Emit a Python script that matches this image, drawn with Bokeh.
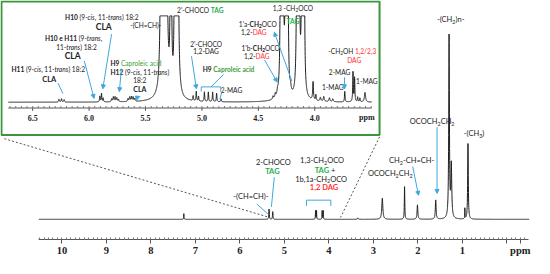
import glob, os, subprocess
import numpy as np
from bokeh.plotting import figure
from bokeh.models import (Range1d, ColumnDataSource, Arrow, NormalHead, FixedTicker)
from bokeh.core.properties import value
from bokeh.embed import file_html
from bokeh.resources import INLINE

# ---------------- data ----------------
# main 1H spectrum: peak positions (ppm), heights (arb.), half widths (ppm)
main_ppm = [7.26, 5.345, 5.262, 4.300, 4.278, 4.152, 4.128, 3.35, 2.80, 2.30,
            2.01, 1.60, 1.300, 1.250, 0.945, 0.875]
main_int = [6, 11, 8, 9, 9, 9, 9, 1.5, 22, 34, 15, 20, 190, 55, 12, 80]
main_hw = [0.004, 0.006, 0.006, 0.004, 0.004, 0.004, 0.004, 0.01, 0.014, 0.006,
           0.010, 0.010, 0.009, 0.012, 0.003, 0.008]

# expanded region 6.7-3.5 ppm
inset_ppm = [6.267, 6.244, 6.221, 5.905, 5.890, 5.875, 5.800, 5.785, 5.770, 5.755, 5.740,
             5.655, 5.640, 5.625, 5.610, 5.595,
             5.360, 5.345, 5.330, 5.315, 5.275, 5.240, 5.225, 5.210, 5.210,
             5.078, 5.050, 5.030, 4.978, 4.943, 4.905, 4.870, 4.830,
             4.370, 4.350, 4.330, 4.300, 4.285, 4.255, 4.240, 4.215,
             4.155, 4.140, 4.110, 4.095, 4.015, 3.990, 3.950, 3.920, 3.870, 3.840,
             3.734, 3.661, 3.647, 3.620, 3.600, 3.555]
inset_int = [3.0, 3.5, 2.5, 6, 9, 4, 3, 5, 5, 4, 2.5,
             3, 4.5, 5, 4.5, 3,
             600, 900, 900, 600, 900, 500, 500, 250, 30,
             5, 10, 5, 10, 10, 10, 9, 3,
             3, 4, 4, 600, 1000, 800, 400, 6,
             800, 600, 900, 400, 19, 6, 4, 5, 4, 3,
             11, 31, 25, 5, 4, 10]
inset_hw = [0.004, 0.004, 0.004, 0.003, 0.003, 0.003, 0.004, 0.004, 0.004, 0.004, 0.004,
            0.004, 0.004, 0.004, 0.004, 0.004,
            0.004, 0.004, 0.004, 0.004, 0.0025, 0.003, 0.003, 0.003, 0.015,
            0.003, 0.003, 0.003, 0.003, 0.003, 0.003, 0.003, 0.003,
            0.004, 0.004, 0.004, 0.003, 0.003, 0.003, 0.003, 0.006,
            0.003, 0.003, 0.003, 0.003, 0.004, 0.003, 0.005, 0.005, 0.005, 0.005,
            0.003, 0.003, 0.003, 0.003, 0.003, 0.006]
inset_clip = 90

main_ticks = [10, 9, 8, 7, 6, 5, 4, 3, 2, 1, 0, -0.3]
main_tick_labels = {0: "", -0.3: "ppm"}
inset_ticks = [6.5, 6.0, 5.5, 5.0, 4.5, 4.0]
main_span = (10.52, -0.50)
inset_span = (6.716, 3.495)

# ---------------- styling ----------------
INK = "#222222"
BLUE = "#3ea8de"
GTAG = "#1fae4a"
GCAP = "#3b9e35"
RED = "#ff3030"
BOXC = "#3c943c"
FONT = "Lato"
SERIF = "Liberation Serif"

W, H = 534, 258
SX = W / 548.0          # canvas px per reference px
SY = 240 / 249.0


def mx(px):  # reference page x -> main ppm
    return 10 - (px - 67) / 45.67


def my(py):
    return 232 - py


def ix(px):  # reference page x -> inset ppm
    return 6.5 - (px - 37) / 115.8


def iy(py):
    return 110 - py


# ---------------- text measuring ----------------
_font_cache = {}


def _font_file(style):
    names = {"normal": ["Lato-Regular.ttf"], "bold": ["Lato-Bold.ttf"],
             "italic": ["Lato-Italic.ttf"], "bold italic": ["Lato-BoldItalic.ttf"]}[style]
    for d in ["/usr/share/fonts", "/usr/local/share/fonts",
              os.path.expanduser("~/.fonts"), os.path.expanduser("~/.local/share/fonts")]:
        for n in names:
            r = glob.glob(os.path.join(d, "**", n), recursive=True)
            if r:
                return r[0]
    pat = {"normal": "Lato:style=Regular", "bold": "Lato:style=Bold",
           "italic": "Lato:style=Italic", "bold italic": "Lato:style=Bold Italic"}[style]
    try:
        out = subprocess.run(["fc-match", "-f", "%{file}", pat], capture_output=True,
                             text=True, timeout=5).stdout.strip()
        if out and os.path.exists(out):
            return out
    except Exception:
        pass
    return None


def measure(txt, style, size):
    if style not in _font_cache:
        f = None
        try:
            from PIL import ImageFont
            path = _font_file(style)
            if path:
                f = ImageFont.truetype(path, 100)
        except Exception:
            f = None
        _font_cache[style] = f
    f = _font_cache[style]
    if f is not None:
        return f.getlength(txt) * size / 100.0
    return 0.52 * size * len(txt)


texts = dict(x=[], y=[], text=[], color=[], style=[], size=[])


def rich(px, py, segs, size=6.5, align="center"):
    items, total = [], 0.0
    for s in segs:
        txt, st = s[0], s[1]
        col = s[2] if len(s) > 2 and s[2] else INK
        sub = len(s) > 3 and s[3]
        fs = size * 0.72 if sub else size
        w = measure(txt, st, fs) / SX
        items.append((txt.replace(" ", "\u00a0"), st, col, sub, fs, w))
        total += w
    x0 = px - total / 2 if align == "center" else (px - total if align == "right" else px)
    for txt, st, col, sub, fs, w in items:
        yy = py + (0.3 * size / SY if sub else 0)
        texts["x"].append(mx(x0))
        texts["y"].append(my(yy))
        texts["text"].append(txt)
        texts["color"].append(col)
        texts["style"].append(st)
        texts["size"].append("%.2fpx" % fs)
        x0 += w


# ---------------- figure ----------------
p = figure(width=W, height=H, x_range=Range1d(mx(4), mx(552)), y_range=Range1d(my(253), my(4)),
           output_backend="svg", toolbar_location=None, y_axis_location=None,
           min_border=0, outline_line_color=None, background_fill_color="white")
p.extra_x_ranges = {"ix": Range1d(ix(4), ix(552))}
p.extra_y_ranges = {"iy": Range1d(iy(253), iy(4))}
p.xgrid.visible = False
p.ygrid.visible = False

ax = p.xaxis[0]
ax.ticker = FixedTicker(ticks=main_ticks,
                        minor_ticks=[round(v, 2) for v in np.arange(-0.4, 10.55, 0.1)])
ax.major_label_overrides = main_tick_labels
ax.bounds = (-0.48, 10.52)
ax.axis_line_color = "#555555"
ax.major_tick_line_color = "#555555"
ax.minor_tick_line_color = "#777777"
ax.major_tick_in = 0
ax.major_tick_out = 4
ax.minor_tick_in = 2
ax.minor_tick_out = 0
ax.major_label_standoff = 1
ax.major_label_text_line_height = 1.0
ax.major_label_text_font = SERIF
ax.major_label_text_font_style = "bold"
ax.major_label_text_font_size = "10.5px"
ax.major_label_text_color = INK

# inset frame
p.quad(left=[mx(5)], right=[mx(393)], top=[my(5)], bottom=[my(144)],
       fill_color="white", line_color=BOXC, line_width=2)

# zoom guide lines
p.segment(x0=[mx(8), mx(393)], y0=[my(148), my(146)], x1=[mx(280), mx(353)], y1=[my(230), my(230)],
          line_color="#555555", line_dash="2 2", line_width=1)

# main spectrum
xm = np.arange(main_span[1], main_span[0], 0.002)
ym = np.zeros_like(xm)
for c, h, w in zip(main_ppm, main_int, main_hw):
    ym += h / (1 + ((xm - c) / w) ** 2)
p.line(xm, ym, line_color="#1e1e1e", line_width=1)

# inset spectrum
xi = np.arange(inset_span[1], inset_span[0], 0.0006)
yi = np.zeros_like(xi)
for c, h, w in zip(inset_ppm, inset_int, inset_hw):
    yi += h / (1 + ((xi - c) / w) ** 2)
yi = np.minimum(yi, inset_clip)
p.line(xi, yi, line_color="#1e1e1e", line_width=1, x_range_name="ix", y_range_name="iy")

# inset ruler
p.segment(x0=[inset_span[0]], x1=[inset_span[1]], y0=[iy(116)], y1=[iy(116)],
          line_color="#555555", line_width=1, x_range_name="ix", y_range_name="iy")
minor = [round(v, 3) for v in np.arange(3.5, 6.716, 0.05)]
p.segment(x0=minor, x1=minor, y0=[iy(116)] * len(minor), y1=[iy(114)] * len(minor),
          line_color="#777777", line_width=1, x_range_name="ix", y_range_name="iy")
p.segment(x0=inset_ticks, x1=inset_ticks, y0=[iy(116)] * len(inset_ticks),
          y1=[iy(119)] * len(inset_ticks), line_color="#555555", line_width=1,
          x_range_name="ix", y_range_name="iy")
p.text(x=inset_ticks + [ix(380)], y=[iy(126)] * (len(inset_ticks) + 1),
       text=["%.1f" % t for t in inset_ticks] + ["ppm"], text_font=value(SERIF),
       text_font_style="bold", text_font_size="8px", text_color=INK, text_align="center",
       text_baseline="middle", x_range_name="ix", y_range_name="iy")

# ---------------- labels ----------------
S = 6.6
rich(53, 75, [("H11", "bold"), (" (9-", "normal"), ("cis", "italic"), (", 11-", "normal"),
              ("trans", "italic"), (") 18:2", "normal")], S)
rich(54, 86, [("CLA", "bold")], 7.5)
rich(79, 43, [("H10 e H11", "bold"), (" (9-", "normal"), ("trans", "italic"), (",", "normal")], S)
rich(82, 52, [("11-", "normal"), ("trans", "italic"), (") 18:2", "normal")], S)
rich(78, 62, [("CLA", "bold")], 8.5)
rich(108, 21, [("H10", "bold"), (" (9-", "normal"), ("cis", "italic"), (", 11-", "normal"),
               ("trans", "italic"), (") 18:2", "normal")], S)
rich(110, 32, [("CLA", "bold")], 8.5)
rich(153, 30, [("-(CH=CH)-", "normal")], S)
rich(143, 69, [("H9 ", "bold"), ("Caproleic acid", "normal", GCAP)], S)
rich(147, 78, [("H12", "bold"), (" (9-", "normal"), ("cis", "italic"), (", 11-", "normal"),
               ("trans", "italic"), (")", "normal")], S)
rich(147, 87, [("18:2", "normal")], S)
rich(147, 96, [("CLA", "bold")], 7)
rich(209, 14, [("2'-CHOCO ", "normal"), ("TAG", "bold", GTAG)], S)
rich(215, 49, [("2'-CHOCO", "normal")], S)
rich(215, 57, [("1,2-DAG", "normal")], S)
rich(238, 75, [("H9 ", "bold"), ("Caproleic acid", "bold", GCAP)], S)
rich(241, 97, [("2-MAG", "normal")], S)
rich(268, 28, [("1'a-", "normal"), ("CH", "bold"), ("2", "bold", None, True), ("OCO", "normal")], S)
rich(264, 37, [("1,2-", "normal"), ("DAG", "normal", RED)], S)
rich(271, 54, [("1'b-", "normal"), ("CH", "bold"), ("2", "bold", None, True), ("OCO", "normal")], S)
rich(267, 62, [("1,2-", "normal"), ("DAG", "normal", RED)], S)
rich(304, 12, [("1,3 -CH", "normal"), ("2", "normal", None, True), ("OCO", "normal")], S)
rich(304, 25, [("TAG", "bold", GTAG)], S)
rich(365, 57, [("-CH", "normal"), ("2", "normal", None, True), ("OH ", "normal"),
               ("1,2/2,3", "normal", RED)], S)
rich(367, 66, [("DAG", "normal", RED)], S)
rich(352, 79, [("2-MAG", "normal")], S)
rich(345, 94, [("1-MAG", "normal")], S)
rich(380, 88, [("1-MAG", "normal")], S)

M = 7.5
rich(466, 24, [("-(CH", "normal"), ("2", "normal", None, True), (")n-", "normal")], M)
rich(447, 130, [("OCOCH", "normal"), ("2", "normal", None, True), ("CH", "normal"),
                ("2", "normal", None, True)], M)
rich(490, 143, [("-(CH", "normal"), ("3", "normal", None, True), (")", "normal")], M)
rich(426, 171, [("CH", "normal"), ("2", "normal", None, True), ("-CH=CH-", "normal")], M)
rich(404, 184, [("OCOCH", "normal"), ("2", "normal", None, True), ("CH", "normal"),
                ("2", "normal", None, True)], M)
rich(334, 171, [("1,3-CH", "normal"), ("2", "normal", None, True), ("OCO", "normal")], M)
rich(337, 181, [("TAG", "bold", GTAG), (" +", "normal")], M)
rich(333, 190, [("1b,1a-CH", "normal"), ("2", "normal", None, True), ("OCO", "normal")], M)
rich(336, 199, [("1,2 DAG", "bold", RED)], M)
rich(284, 173, [("2-CHOCO", "normal")], M)
rich(283, 182, [("TAG", "bold", GTAG)], M)
rich(261, 208, [("-(CH=CH)-", "normal")], M)

src = ColumnDataSource(texts)
p.text(x="x", y="y", text="text", text_color="color", text_font_style="style",
       text_font_size="size", text_font=value(FONT), text_align="left",
       text_baseline="middle", source=src)

# ---------------- arrows and brackets ----------------
arrows = [  # (x0, y0, x1, y1, head)
    (452, 136, 452, 205, True), (427, 177, 433, 207, True), (285, 188, 282, 219, False),
    (267, 216, 279, 227, False),
    (63, 90, 68, 101, False), (90, 67, 100, 106, True), (118, 39, 109, 96, True),
    (128, 75, 126, 99, True), (142, 106, 147, 104, True), (200, 62, 205, 96, True),
    (220, 94, 233, 81, False), (231, 100, 229, 107, False), (303, 88, 285, 37, True),
    (275, 66, 288, 89, True), (357, 84, 357, 96, True),
]
for x0, y0, x1, y1, head in arrows:
    p.add_layout(Arrow(x_start=mx(x0), y_start=my(y0), x_end=mx(x1), y_end=my(y1),
                       line_color=BLUE, line_width=1,
                       end=NormalHead(size=4, fill_color=BLUE, line_color=BLUE) if head else None))

brackets = [(318, 343, 212, 218), (210, 230, 94, 99)]
for xa, xb, yt, yb in brackets:
    p.line([mx(xa), mx(xa), mx(xb), mx(xb)], [my(yb), my(yt), my(yt), my(yb)],
           line_color=BLUE, line_width=1)

open("out.html", "w").write(file_html(p, INLINE))
